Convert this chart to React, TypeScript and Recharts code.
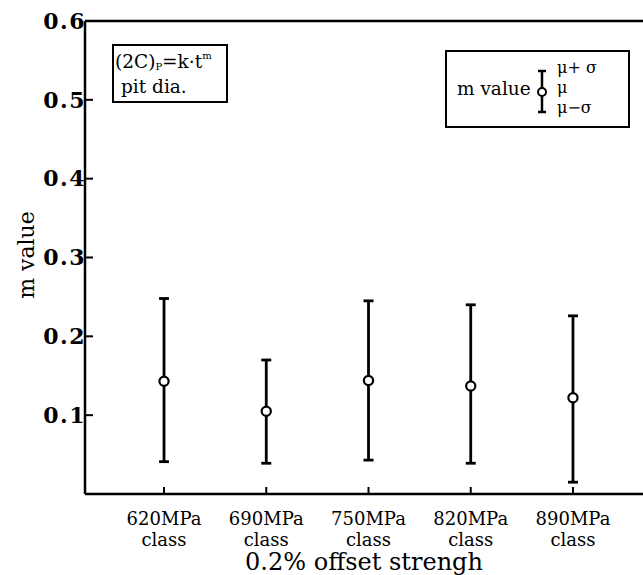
import {
  ComposedChart,
  Scatter,
  ErrorBar,
  XAxis,
  YAxis,
  ReferenceLine,
  Legend,
} from 'recharts'

// Steel grades by 0.2% offset strength
const GRADES = ['620MPa', '690MPa', '750MPa', '820MPa', '890MPa']
// Time exponent m of the pit-diameter law, mean and ±1σ bounds
const M_MEAN = [0.143, 0.105, 0.144, 0.137, 0.122]
const M_UPPER = [0.248, 0.17, 0.245, 0.24, 0.226]
const M_LOWER = [0.041, 0.039, 0.043, 0.039, 0.015]
const Y_TICKS = [0.1, 0.2, 0.3, 0.4, 0.5, 0.6]

const SERIF = '"DejaVu Serif", "Liberation Serif", serif'
const INK = '#000'

const data = GRADES.map((grade, i) => ({
  x: i + 1,
  grade,
  m: M_MEAN[i],
  // ErrorBar takes [below, above] offsets from the mean
  sd: [M_MEAN[i] - M_LOWER[i], M_UPPER[i] - M_MEAN[i]],
}))

// Two-line category label: grade on top, "class" underneath
function GradeTick({ x, y, payload }: any) {
  const name = GRADES[payload.value - 1]
  return (
    <text x={x} y={y} textAnchor="middle" fontFamily={SERIF} fontSize={18} fill={INK}>
      <tspan x={x} dy={0}>
        {name}
      </tspan>
      <tspan x={x} dy={21}>
        class
      </tspan>
    </text>
  )
}

function YTitle() {
  return (
    <text
      transform="translate(34,255) rotate(-90)"
      textAnchor="middle"
      fontFamily={SERIF}
      fontSize={22}
      fill={INK}
    >
      m value
    </text>
  )
}

function OpenDot({ cx, cy }: any) {
  return <circle cx={cx} cy={cy} r={4.6} fill="#fff" stroke={INK} strokeWidth={2.2} />
}

// Key explaining the dot-and-whisker symbol
function SigmaKey() {
  return (
    <div
      style={{
        width: 185,
        height: 78,
        border: `2px solid ${INK}`,
        boxSizing: 'border-box',
        background: '#fff',
      }}
    >
      <svg width={181} height={74} style={{ display: 'block' }}>
        <g transform="translate(-2,-2)" fontFamily={SERIF} fill={INK}>
          <text x={12} y={45} fontSize={18.5}>
            m value
          </text>
          <line x1={97} y1={21} x2={97} y2={62} stroke={INK} strokeWidth={2.5} />
          <line x1={93} y1={21} x2={101} y2={21} stroke={INK} strokeWidth={2.5} />
          <line x1={93} y1={62} x2={101} y2={62} stroke={INK} strokeWidth={2.5} />
          <circle cx={97} cy={42} r={4} fill="#fff" stroke={INK} strokeWidth={2} />
          <text x={112} y={23} fontSize={16}>
            μ+ σ
          </text>
          <text x={112} y={43} fontSize={16}>
            μ
          </text>
          <text x={112} y={63} fontSize={16}>
            μ−σ
          </text>
        </g>
      </svg>
    </div>
  )
}

function FormulaNote() {
  return (
    <svg
      width={116}
      height={59}
      style={{ position: 'absolute', left: 112, top: 44 }}
    >
      <rect x={1} y={1} width={114} height={57} fill="#fff" stroke={INK} strokeWidth={2} />
      <g fontFamily={SERIF} fill={INK}>
        <text x={3} y={24} fontSize={18.5}>
          (2C)
          <tspan fontSize={10} dy={2}>
            P
          </tspan>
          <tspan dy={-2}>=k·t</tspan>
          <tspan fontSize={10} dy={-9}>
            m
          </tspan>
        </text>
        <text x={9} y={49} fontSize={18.5}>
          pit dia.
        </text>
      </g>
    </svg>
  )
}

export default function App() {
  return (
    <div
      style={{
        position: 'absolute',
        left: 0,
        top: 0,
        width: 643,
        height: 575,
        background: '#fff',
        overflow: 'hidden',
      }}
    >
      <ComposedChart
        width={643}
        height={575}
        data={data}
        margin={{ top: 21, right: 0, bottom: 0, left: 0 }}
      >
        <XAxis
          type="number"
          dataKey="x"
          domain={[0.227, 5.685]}
          ticks={[1, 2, 3, 4, 5]}
          interval={0}
          height={81}
          axisLine={{ stroke: INK, strokeWidth: 2.5 }}
          tickLine={{ stroke: INK, strokeWidth: 2 }}
          tickSize={-7}
          tickMargin={38}
          tick={<GradeTick />}
          label={{
            value: '0.2% offset strengh',
            position: 'insideBottom',
            offset: 5,
            fontSize: 24,
            fontFamily: SERIF,
            fill: INK,
          }}
        />
        <YAxis
          type="number"
          domain={[0, 0.6]}
          ticks={Y_TICKS}
          width={85}
          axisLine={{ stroke: INK, strokeWidth: 2.5 }}
          tickLine={{ stroke: INK, strokeWidth: 2 }}
          tickSize={-8}
          tickMargin={7}
          tick={{ fontSize: 22, fontFamily: SERIF, fontWeight: 'bold', fill: INK, letterSpacing: 1.5 }}
          tickFormatter={(v: number) => v.toFixed(1)}
          label={<YTitle />}
        />
        <ReferenceLine y={0.6} stroke={INK} strokeWidth={2.5} />
        <Scatter dataKey="m" shape={<OpenDot />} isAnimationActive={false}>
          <ErrorBar
            dataKey="sd"
            direction="y"
            width={5}
            stroke={INK}
            strokeWidth={2.8}
            isAnimationActive={false}
          />
        </Scatter>
        <Legend
          layout="vertical"
          align="center"
          verticalAlign="middle"
          content={() => <SigmaKey />}
          wrapperStyle={{ position: 'absolute', left: 445, top: 50, width: 185, height: 78 }}
        />
      </ComposedChart>
      <FormulaNote />
    </div>
  )
}
